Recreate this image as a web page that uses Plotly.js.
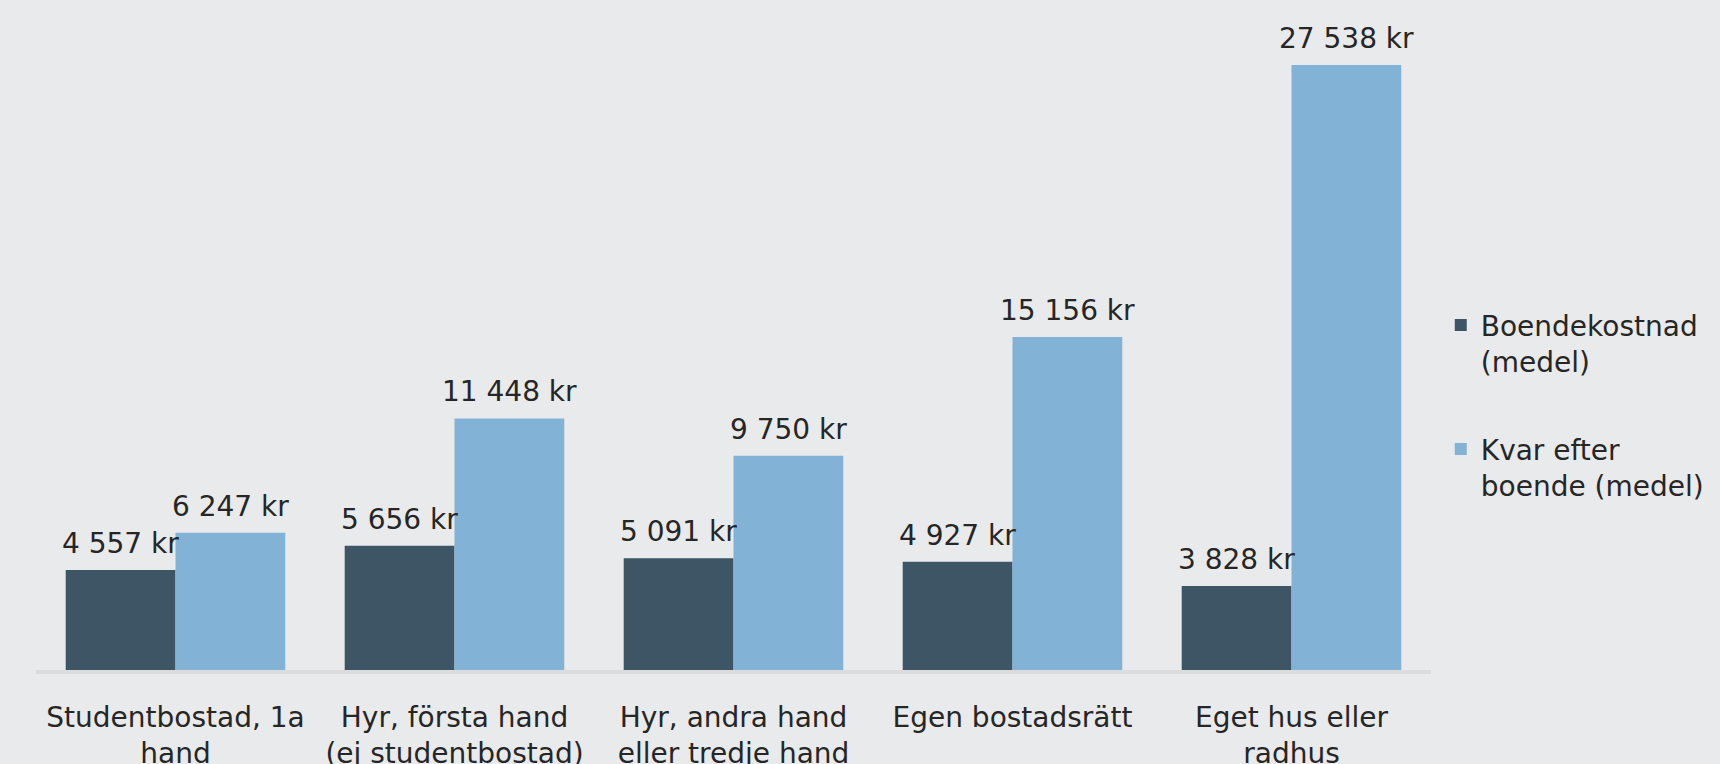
<!DOCTYPE html>
<html>
<head>
<meta charset="utf-8">
<script src="https://cdn.plot.ly/plotly-3.0.1.min.js"></script>
<style>
  html, body { margin: 0; padding: 0; background: #e9eaec; }
  #chart { width: 1720px; height: 764px; }
</style>
</head>
<body>
<div id="chart"></div>
<script>
const categories = [
  "Studentbostad, 1a<br>hand",
  "Hyr, första hand<br>(ej studentbostad)",
  "Hyr, andra hand<br>eller tredje hand",
  "Egen bostadsrätt",
  "Eget hus eller<br>radhus"
];
const boendekostnad = [4557, 5656, 5091, 4927, 3828];
const kvarEfterBoende = [6247, 11448, 9750, 15156, 27538];
const seriesNames = ["Boendekostnad<br>(medel)", "Kvar efter<br>boende (medel)"];

function fmt(v) {
  return String(v).replace(/\B(?=(\d{3})+(?!\d))/g, " ") + " kr";
}

const FONT = "'DejaVu Sans', 'Noto Sans', sans-serif";
const TXT = "#262626";
const BARGAP = 0.213;
const seriesValues = [boendekostnad, kvarEfterBoende];
const nSeries = seriesValues.length;
const barW = (1 - BARGAP) / nSeries;

const traces = seriesValues.map((vals, s) => ({
  type: "bar",
  name: seriesNames[s],
  legendgroup: "g" + s,
  x: categories,
  y: vals,
  marker: { color: s === 0 ? "#3e5566" : "#82b2d6" },
  hoverinfo: "skip"
}));

// value labels, positioned through the axes' own scales
const annotations = [];
seriesValues.forEach((vals, s) => {
  const off = (s - (nSeries - 1) / 2) * barW;
  vals.forEach((v, i) => {
    annotations.push({
      xref: "x", yref: "y",
      x: i + off, y: v,
      text: fmt(v),
      showarrow: false,
      xanchor: "center", yanchor: "bottom",
      yshift: 8,
      font: { family: FONT, size: 28, color: TXT }
    });
  });
});

const layout = {
  width: 1720,
  height: 764,
  paper_bgcolor: "#e9eaec",
  plot_bgcolor: "#e9eaec",
  font: { family: FONT, size: 28, color: TXT },
  margin: { l: 36, r: 289, t: 10, b: 94, pad: 0 },
  barmode: "group",
  bargap: BARGAP,
  bargroupgap: 0,
  showlegend: true,
  annotations: annotations,
  legend: {
    x: 1.007,
    xanchor: "left",
    y: 0.56,
    yanchor: "top",
    valign: "top",
    bgcolor: "rgba(0,0,0,0)",
    tracegroupgap: 48,
    traceorder: "grouped",
    font: { family: FONT, size: 28, color: TXT }
  },
  xaxis: {
    type: "category",
    showgrid: false,
    zeroline: false,
    showline: true,
    linecolor: "#dcdcdc",
    linewidth: 4,
    ticks: "outside",
    ticklen: 19,
    tickcolor: "rgba(0,0,0,0)",
    tickfont: { family: FONT, size: 28, color: TXT },
    tickangle: 0,
    fixedrange: true
  },
  yaxis: {
    range: [0, 30041],
    visible: false,
    showgrid: false,
    zeroline: false,
    fixedrange: true
  }
};

Plotly.newPlot("chart", traces, layout, { displayModeBar: false, staticPlot: true });
</script>
</body>
</html>
